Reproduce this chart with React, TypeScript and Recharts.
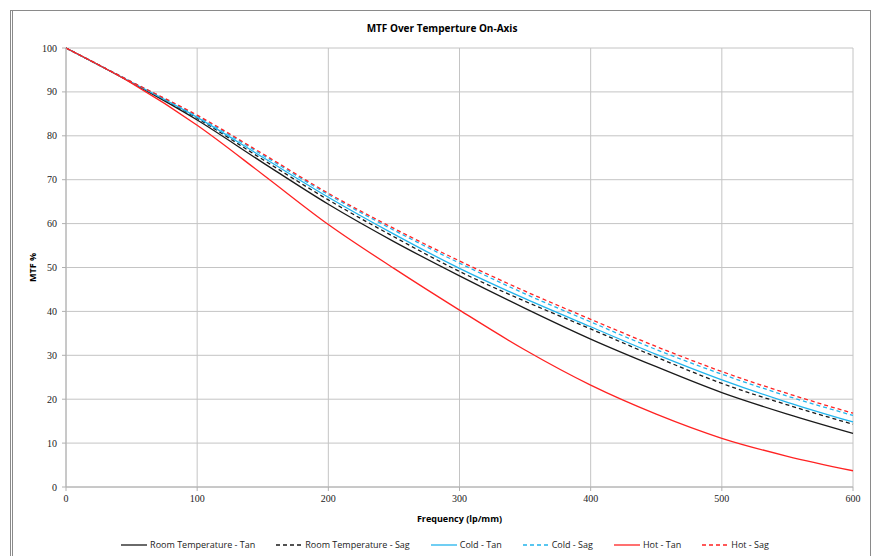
import React from 'react';
import { LineChart, Line, XAxis, YAxis, CartesianGrid, Label } from 'recharts';

const freq = [0, 50, 100, 150, 200, 250, 300, 350, 400, 450, 500, 550, 600];
const rtTan = [100, 92.1, 83.6, 73.9, 64.4, 55.9, 48.1, 40.7, 33.7, 27.4, 21.5, 16.6, 12.2];
const rtSag = [100, 92.2, 84.0, 74.6, 65.4, 57.0, 49.1, 42.3, 36.0, 29.6, 23.6, 18.7, 14.3];
const coldTan = [100, 92.2, 84.2, 75.1, 66.0, 57.6, 49.8, 42.9, 36.5, 30.2, 24.4, 19.3, 14.8];
const coldSag = [100, 92.3, 84.5, 75.6, 66.6, 58.5, 51.0, 44.0, 37.6, 31.3, 25.7, 20.7, 16.3];
const hotTan = [100, 92.0, 82.4, 71.2, 59.8, 49.8, 40.3, 31.2, 23.2, 16.6, 11.1, 7.0, 3.7];
const hotSag = [100, 92.3, 84.7, 75.9, 66.9, 58.9, 51.5, 44.6, 38.2, 32.0, 26.3, 21.3, 16.8];

const xTicks = [0, 100, 200, 300, 400, 500, 600];
const yTicks = [0, 10, 20, 30, 40, 50, 60, 70, 80, 90, 100];

const seriesNames = [
  'Room Temperature - Tan',
  'Room Temperature - Sag',
  'Cold - Tan',
  'Cold - Sag',
  'Hot - Tan',
  'Hot - Sag',
];
const seriesKeys = ['rtTan', 'rtSag', 'coldTan', 'coldSag', 'hotTan', 'hotSag'];
const seriesColors = ['#1a1a1a', '#1a1a1a', '#22b4ec', '#22b4ec', '#ff2222', '#ff2222'];
const seriesDash = [undefined, '4 3', undefined, '4 3', undefined, '4 3'];

const data = freq.map((f, i) => ({
  f,
  rtTan: rtTan[i],
  rtSag: rtSag[i],
  coldTan: coldTan[i],
  coldSag: coldSag[i],
  hotTan: hotTan[i],
  hotSag: hotSag[i],
}));

const narrow = '"Liberation Sans Narrow", "Arial Narrow", "Open Sans", sans-serif';
const serif = '"Liberation Serif", "DejaVu Serif", serif';

export default function App() {
  return (
    <div style={{ position: 'absolute', left: 0, top: 0, width: 877, height: 556, background: '#fff', overflow: 'hidden' }}>
      <div style={{ position: 'absolute', left: 10, top: 10, width: 861, height: 560, border: '1px solid #8a8a8a', borderLeft: '3px double #8a8a8a', boxSizing: 'border-box' }} />
      <div style={{ position: 'absolute', left: 0, top: 21, width: 884, textAlign: 'center', fontFamily: narrow, fontWeight: 'bold', fontSize: 10, color: '#000' }}>
        MTF Over Temperture On-Axis
      </div>
      <div style={{ position: 'absolute', left: 0, top: 0 }}>
        <LineChart width={877} height={556} data={data} margin={{ top: 48, right: 24, bottom: 34, left: 0 }}>
          <CartesianGrid stroke="#c4c4c4" strokeWidth={1} />
          <XAxis
            dataKey="f"
            type="number"
            domain={[0, 600]}
            ticks={xTicks}
            height={35}
            stroke="#b0b0b0"
            tickSize={4}
            tickMargin={4}
            tick={{ fill: '#222', fontSize: 10, fontFamily: serif }}
          >
            <Label value="Frequency (lp/mm)" position="insideBottom" offset={0} style={{ fontFamily: narrow, fontWeight: 'bold', fontSize: 9, fill: '#000' }} />
          </XAxis>
          <YAxis
            type="number"
            domain={[0, 100]}
            ticks={yTicks}
            width={66}
            stroke="#b0b0b0"
            tickSize={4}
            tickMargin={5}
            tick={{ fill: '#222', fontSize: 10, fontFamily: serif }}
          >
            <Label value="MTF %" angle={-90} position="insideLeft" offset={33} style={{ textAnchor: 'middle', fontFamily: narrow, fontWeight: 'bold', fontSize: 9, fill: '#000' }} />
          </YAxis>
          {seriesKeys.map((k, i) => (
            <Line
              key={k}
              dataKey={k}
              name={seriesNames[i]}
              type="monotone"
              stroke={seriesColors[i]}
              strokeWidth={1.3}
              strokeDasharray={seriesDash[i]}
              dot={false}
              activeDot={false}
              isAnimationActive={false}
            />
          ))}
        </LineChart>
      </div>
      <div style={{ position: 'absolute', left: 0, top: 538, width: 890, display: 'flex', justifyContent: 'center', fontFamily: narrow, fontSize: 9, color: '#222' }}>
        {seriesNames.map((n, i) => (
          <div key={n} style={{ display: 'flex', alignItems: 'center', marginRight: i < seriesNames.length - 1 ? 21 : 0 }}>
            <svg width={26} height={10} style={{ marginRight: 3 }}>
              <line x1={0} y1={5} x2={26} y2={5} stroke={seriesColors[i]} strokeWidth={1.3} strokeDasharray={seriesDash[i]} />
            </svg>
            <span>{n}</span>
          </div>
        ))}
      </div>
    </div>
  );
}
